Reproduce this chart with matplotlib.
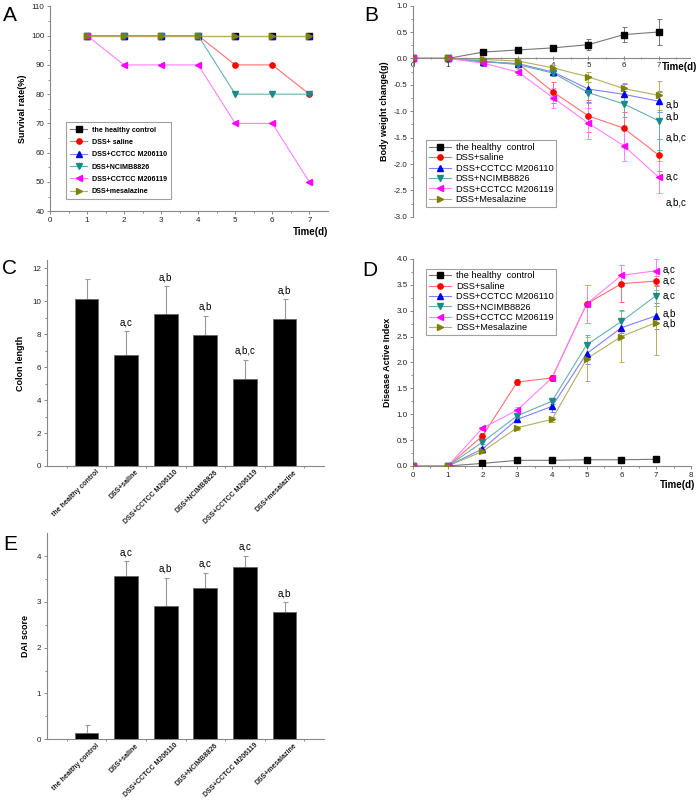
import matplotlib
matplotlib.use('Agg')
import matplotlib.pyplot as plt
import matplotlib.transforms as mtransforms
import numpy as np

plt.rcParams['font.family'] = ['Liberation Sans', 'DejaVu Sans']

# ---- data ----
groups_a = ['the healthy control', 'DSS+ saline', 'DSS+CCTCC M206110',
            'DSS+NCIMB8826', 'DSS+CCTCC M206119', 'DSS+mesalazine']
groups_bd = ['the healthy  control', 'DSS+saline', 'DSS+CCTCC M206110',
             'DSS+NCIMB8826', 'DSS+CCTCC M206119', 'DSS+Mesalazine']
bar_labels = ['the healthy control', 'DSS+saline', 'DSS+CCTCC M206110',
              'DSS+NCIMB8826', 'DSS+CCTCC M206119', 'DSS+mesalazine']

days_a = [1, 2, 3, 4, 5, 6, 7]
survival = [
    [100, 100, 100, 100, 100, 100, 100],
    [100, 100, 100, 100, 90, 90, 80],
    [100, 100, 100, 100, 100, 100, 100],
    [100, 100, 100, 100, 80, 80, 80],
    [100, 90, 90, 90, 70, 70, 50],
    [100, 100, 100, 100, 100, 100, 100],
]

days = [0, 1, 2, 3, 4, 5, 6, 7]
weight = [
    [0, 0, 0.12, 0.16, 0.20, 0.26, 0.45, 0.50],
    [0, 0, -0.07, -0.10, -0.64, -1.09, -1.32, -1.83],
    [0, 0, -0.06, -0.10, -0.26, -0.58, -0.68, -0.81],
    [0, 0, -0.05, -0.12, -0.28, -0.65, -0.86, -1.18],
    [0, 0, -0.09, -0.26, -0.75, -1.23, -1.65, -2.25],
    [0, 0, -0.02, -0.05, -0.18, -0.35, -0.57, -0.70],
]
weight_err = [
    [0, 0, 0.02, 0.02, 0.02, 0.11, 0.14, 0.25],
    [0, 0, 0.03, 0.05, 0.20, 0.30, 0.30, 0.30],
    [0, 0, 0.02, 0.03, 0.05, 0.25, 0.20, 0.20],
    [0, 0, 0.02, 0.04, 0.05, 0.20, 0.25, 0.55],
    [0, 0, 0.03, 0.05, 0.18, 0.30, 0.30, 0.30],
    [0, 0, 0.02, 0.03, 0.05, 0.10, 0.10, 0.28],
]
weight_sig = ['a,b', 'a,b', 'a,b,c', 'a,c', 'a,b,c']
weight_sig_y = [-0.88, -1.10, -1.50, -2.24, -2.72]

dai = [
    [0, 0, 0.05, 0.11, 0.11, 0.12, 0.12, 0.13],
    [0, 0, 0.58, 1.62, 1.70, 3.13, 3.52, 3.57],
    [0, 0, 0.33, 0.90, 1.15, 2.17, 2.67, 2.90],
    [0, 0, 0.46, 0.97, 1.25, 2.34, 2.79, 3.29],
    [0, 0, 0.73, 1.08, 1.70, 3.13, 3.68, 3.77],
    [0, 0, 0.28, 0.74, 0.90, 2.07, 2.50, 2.77],
]
dai_err = [
    [0, 0, 0.01, 0.01, 0.01, 0.02, 0.02, 0.06],
    [0, 0, 0.05, 0.05, 0.05, 0.37, 0.36, 0.10],
    [0, 0, 0.03, 0.05, 0.10, 0.20, 0.15, 0.25],
    [0, 0, 0.03, 0.05, 0.05, 0.18, 0.22, 0.20],
    [0, 0, 0.03, 0.05, 0.05, 0.37, 0.20, 0.22],
    [0, 0, 0.03, 0.04, 0.05, 0.42, 0.50, 0.63],
]
dai_sig = ['a,c', 'a,c', 'a,c', 'a,b', 'a,b']
dai_sig_y = [3.80, 3.58, 3.30, 2.95, 2.76]

colon = [10.13, 6.72, 9.22, 7.95, 5.25, 8.95]
colon_err = [1.24, 1.46, 1.68, 1.18, 1.21, 1.17]
colon_sig = ['', 'a,c', 'a,b', 'a,b', 'a,b,c', 'a,b']

dai_score = [0.13, 3.57, 2.90, 3.30, 3.77, 2.77]
dai_score_err = [0.18, 0.32, 0.63, 0.33, 0.23, 0.22]
dai_score_sig = ['', 'a,c', 'a,b', 'a,c', 'a,c', 'a,b']

colors = ['#000000', '#ff0000', '#0000ee', '#1a8a8a', '#ff00ff', '#808000']
light = ['#777777', '#ff7070', '#8080ff', '#66b0b0', '#ff80ff', '#b0b060']
markers = ['s', 'o', '^', 'v', '<', '>']
MS = 3.8

fig = plt.figure(figsize=(7, 8), dpi=100)


def style_axes(ax):
    for s in ['top', 'right']:
        ax.spines[s].set_visible(False)
    for s in ['left', 'bottom']:
        ax.spines[s].set_color('#888888')
        ax.spines[s].set_linewidth(0.8)
    ax.tick_params(axis='both', which='both', direction='out', colors='#888888',
                   labelcolor='#222222', labelsize=5.8, width=0.7, pad=1.5)
    ax.tick_params(which='major', length=2.5)
    ax.tick_params(which='minor', length=1.5)


def handles(ax):
    return [ax.plot([], [], color=light[i], lw=0.8, marker=markers[i], ms=MS,
                    mfc=colors[i], mec=colors[i])[0] for i in range(6)]


# ---- A: survival ----
axA = fig.add_axes([0.0714, 0.736, 0.397, 0.256])
for i in range(6):
    axA.plot(days_a, survival[i], color=light[i], lw=0.8)
    axA.plot(days_a, survival[i], ls='none', marker=markers[i], ms=MS,
             color=colors[i])
hA = handles(axA)
axA.set_xlim(0, 7.5)
axA.set_ylim(40, 110)
axA.set_xticks(range(8))
axA.set_yticks(range(40, 111, 10))
axA.set_xticks(np.arange(0.5, 7.5, 1), minor=True)
axA.set_yticks(range(45, 110, 10), minor=True)
style_axes(axA)
axA.set_ylabel('Survival rate(%)', fontsize=6.5, fontweight='bold', labelpad=3)
axA.text(7.5, 34.5, 'Time(d)', fontsize=7, fontweight='bold', ha='right', va='top')
legA = axA.legend(hA, groups_a, loc='lower left', bbox_to_anchor=(0.045, 0.04),
                  fontsize=5.1, frameon=True, fancybox=False, edgecolor='#888888',
                  handlelength=2.4, labelspacing=0.75, borderpad=0.6,
                  handletextpad=0.6)
for t in legA.get_texts():
    t.set_fontweight('bold')
legA.get_frame().set_linewidth(0.8)


def line_panel(ax, vals, errs):
    for i in range(6):
        ax.errorbar(days, vals[i], yerr=errs[i], color=light[i], lw=0.8,
                    elinewidth=0.7, capsize=1.8, capthick=0.7, zorder=2)
        ax.plot(days, vals[i], ls='none', marker=markers[i], ms=MS,
                color=colors[i], zorder=3)
    return handles(ax)


# ---- B: body weight ----
axB = fig.add_axes([0.590, 0.729, 0.396, 0.264])
hB = line_panel(axB, weight, weight_err)
axB.set_xlim(0, 7.9)
axB.set_ylim(-3.0, 1.0)
axB.spines['bottom'].set_position(('data', 0))
axB.set_xticks(range(8))
axB.set_xticks(np.arange(0.5, 7.6, 1), minor=True)
axB.set_yticks(np.arange(-3.0, 1.01, 0.5))
axB.set_yticks(np.arange(-2.75, 1.0, 0.5), minor=True)
style_axes(axB)
axB.tick_params(axis='x', which='both', direction='inout')
axB.set_yticklabels(['%.1f' % v for v in np.arange(-3.0, 1.01, 0.5)])
axB.set_ylabel('Body weight change(g)', fontsize=6.5, fontweight='bold', labelpad=3)
axB.text(8.1, -0.06, 'Time(d)', fontsize=7, fontweight='bold', ha='right',
         va='top')
for s, y in zip(weight_sig, weight_sig_y):
    axB.text(7.2, y, s, fontsize=7, va='center', ha='left')
legB = axB.legend(hB, groups_bd, loc='lower left', bbox_to_anchor=(0.03, 0.025),
                  fontsize=6.7, frameon=True, fancybox=False, edgecolor='#888888',
                  handlelength=2.4, labelspacing=0.15, borderpad=0.3,
                  handletextpad=0.5)
legB.get_frame().set_linewidth(0.8)


def bar_panel(ax, vals, errs, sigs, ylim, yticks, yminor, ylabel):
    x = np.arange(1, 7)
    ax.bar(x, vals, width=0.6, color='black', edgecolor='#666666', lw=0.6,
           zorder=3)
    ax.errorbar(x, vals, yerr=[np.zeros(6), errs], fmt='none', ecolor='#999999',
                elinewidth=0.8, capsize=1.8, capthick=0.8, zorder=2)
    for xi, v, e, s in zip(x, vals, errs, sigs):
        if s:
            ax.text(xi, v + e + ylim[1] * 0.02, s, fontsize=7, ha='center',
                    va='bottom')
    ax.set_xlim(0, 7)
    ax.set_ylim(*ylim)
    ax.set_yticks(yticks)
    ax.set_yticks(yminor, minor=True)
    ax.set_xticks(x)
    ax.set_xticks(np.arange(0.5, 7, 1), minor=True)
    style_axes(ax)
    ax.tick_params(axis='x', which='major', length=0, pad=2)
    ax.set_xticklabels(bar_labels, rotation=45, ha='right', va='top',
                       rotation_mode='anchor', fontsize=5, fontweight='bold')
    shift = mtransforms.ScaledTranslation(9 / 100, 0, fig.dpi_scale_trans)
    for lab in ax.get_xticklabels():
        lab.set_transform(lab.get_transform() + shift)
    ax.set_ylabel(ylabel, fontsize=6.5, fontweight='bold', labelpad=5)


# ---- C: colon length ----
axC = fig.add_axes([0.067, 0.4175, 0.396, 0.2575])
bar_panel(axC, colon, colon_err, colon_sig, (0, 12.5), range(0, 13, 2),
          range(1, 13, 2), 'Colon length')

# ---- D: DAI over time ----
axD = fig.add_axes([0.590, 0.4175, 0.397, 0.259])
hD = line_panel(axD, dai, dai_err)
axD.set_xlim(0, 8)
axD.set_ylim(0, 4.0)
axD.set_xticks(range(9))
axD.set_xticks(np.arange(0.5, 8, 1), minor=True)
axD.set_yticks(np.arange(0, 4.01, 0.5))
axD.set_yticks(np.arange(0.25, 4.0, 0.5), minor=True)
style_axes(axD)
axD.set_yticklabels(['%.1f' % v for v in np.arange(0, 4.01, 0.5)])
axD.set_ylabel('Disease Active Index', fontsize=6.5, fontweight='bold', labelpad=3)
axD.text(8.12, -0.27, 'Time(d)', fontsize=7, fontweight='bold', ha='right',
         va='top')
for s, y in zip(dai_sig, dai_sig_y):
    axD.text(7.2, y, s, fontsize=7, va='center', ha='left')
legD = axD.legend(hD, groups_bd, loc='upper left', bbox_to_anchor=(0.03, 0.975),
                  fontsize=6.7, frameon=True, fancybox=False, edgecolor='#888888',
                  handlelength=2.4, labelspacing=0.15, borderpad=0.3,
                  handletextpad=0.5)
legD.get_frame().set_linewidth(0.8)

# ---- E: DAI score ----
axE = fig.add_axes([0.067, 0.076, 0.396, 0.2575])
bar_panel(axE, dai_score, dai_score_err, dai_score_sig, (0, 4.5), range(0, 5),
          np.arange(0.5, 4.5, 1), 'DAI score')

# panel letters
for lab, x, y in [('A', 0.014, 0.981), ('B', 0.530, 0.981), ('C', 0.014, 0.665),
                  ('D', 0.528, 0.662), ('E', 0.014, 0.320)]:
    fig.text(x, y, lab, fontsize=15, va='center', ha='center')

fig.savefig('out.png', dpi=100)
